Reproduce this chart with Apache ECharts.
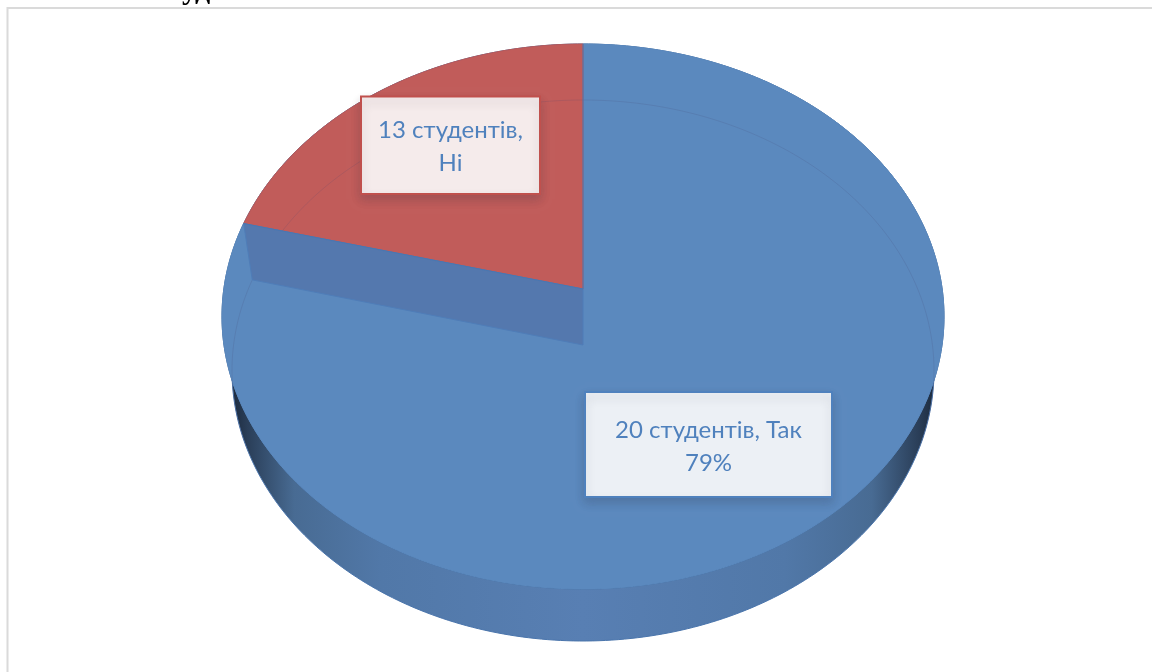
<!DOCTYPE html>
<html><head><meta charset="utf-8">
<style>html,body{margin:0;padding:0;background:#fff}#c{width:1152px;height:672px}</style>
<script src="https://cdn.jsdelivr.net/npm/echarts@6/dist/echarts.min.js"></script>
</head><body><div id="c"></div>
<script>
const categories = ['Так', 'Ні'];
const shares = [79, 21];
const labelTexts = ['20 студентів, Так\n79%', '13 студентів,\nНі'];
const sliceColors = ['#5B89BE', '#C15C5A'];
const borderColors = ['#4F81BD', '#C0504D'];
const boxFills = ['#ECF0F5', '#F5EBEB'];
const boxes = [[585, 392, 247, 105], [361, 96.5, 179, 97.5]];

const total = shares.reduce((a, b) => a + b, 0);
const cx = 583;
// A tilted disc under perspective: far/centre/near screen y and half width.
function disc(far, mid, near, rx) {
  const k = (far + near - 2 * mid) / (near - far);
  const a = near * (1 - k) - mid;
  const c = rx * Math.sqrt(1 - k * k);
  return t => {
    const X = Math.sin(t), Y = -Math.cos(t), d = 1 - k * Y;
    return [cx + c * X / d, (mid + a * Y) / d];
  };
}
const topDisc = disc(44, 289, 589, 361);
const lowDisc = disc(100, 345, 641, 351);
function arc(f, t0, t1) {
  const n = Math.max(8, Math.ceil(Math.abs(t1 - t0) * 60)), p = [];
  for (let i = 0; i <= n; i++) p.push(f(t0 + (t1 - t0) * i / n));
  return p;
}
function frac(i) { let s = 0; for (let j = 0; j < i; j++) s += shares[j]; return s / total * Math.PI * 2; }

const wallFill = new echarts.graphic.LinearGradient(222, 0, 944, 0, [
  {offset: 0, color: '#141F2E'}, {offset: 0.035, color: '#2A3E58'}, {offset: 0.1, color: '#486B93'},
  {offset: 0.22, color: '#5178A8'}, {offset: 0.5, color: '#587FB3'}, {offset: 0.78, color: '#5178A8'},
  {offset: 0.9, color: '#486B93'}, {offset: 0.965, color: '#2A3E58'}, {offset: 1, color: '#141F2E'}
], true);

function renderItem(params, api) {
  const i = params.dataIndex;
  const t0 = frac(i), t1 = t0 + api.value(0) / total * Math.PI * 2;
  const lowApex = [cx, 345];
  const kids = [];
  if (i === 0) {
    kids.push({type: 'polygon', shape: {points: arc(lowDisc, 0, Math.PI * 2)},
      style: {fill: wallFill, stroke: '#4A75AC', lineWidth: 1}});
    kids.push({type: 'polygon', shape: {points: arc(topDisc, 0, Math.PI * 2)},
      style: {fill: sliceColors[0], stroke: '#41699B', lineWidth: 1}});
  }
  kids.push({type: 'polygon', shape: {points: [[cx, 289]].concat(arc(topDisc, t0, t1))},
    style: {fill: sliceColors[i], stroke: i === 1 ? '#B9595A' : sliceColors[i], lineWidth: 1}});
  if (i === 1) {
    kids.push({type: 'polyline', shape: {points: arc(lowDisc, -1.95, 1.95)},
      style: {fill: 'none', stroke: 'rgba(70,70,110,0.16)', lineWidth: 1}});
    const e = arc(topDisc, t0, t0)[0], le = arc(lowDisc, t0, t0)[0];
    kids.push({type: 'polygon', shape: {points: [e, [cx, 289], lowApex, le]},
      style: {fill: '#5478AE', stroke: '#4F7DB8', lineWidth: 1}});
    kids.push({type: 'polyline', shape: {points: [e, [cx, 289], [cx, 44]]},
      style: {fill: 'none', stroke: '#4A76B0', lineWidth: 1}});
  }
  const b = boxes[i];
  kids.push({type: 'rect', shape: {x: b[0], y: b[1], width: b[2], height: b[3]},
    style: {fill: boxFills[i], stroke: borderColors[i], lineWidth: 2,
      shadowBlur: 10, shadowOffsetY: 5, shadowColor: 'rgba(40,40,60,0.2)'}});
  kids.push({type: 'text', style: {x: b[0] + b[2] / 2, y: b[1] + b[3] / 2 + 2, text: labelTexts[i],
    fill: '#4F81BD', font: '24px Lato, "Open Sans"', align: 'center', verticalAlign: 'middle', lineHeight: 33}});
  return {type: 'group', children: kids};
}

const chart = echarts.init(document.getElementById('c'), null, {renderer: 'canvas'});
chart.setOption({
  animation: false,
  backgroundColor: '#fff',
  graphic: [
    {type: 'polyline', z: 0, shape: {points: [[7.5, 672], [7.5, 8], [1152, 8]]},
      style: {fill: 'none', stroke: '#DADADA', lineWidth: 2}},
    {type: 'text', z: 1, style: {x: 182, y: -24, text: 'уд', fill: '#000', font: 'bold 30px "Liberation Serif"'}}
  ],
  series: [{
    type: 'custom', coordinateSystem: 'none', renderItem,
    data: categories.map((c, i) => ({name: c, value: [shares[i]]}))
  }]
});
</script></body></html>
